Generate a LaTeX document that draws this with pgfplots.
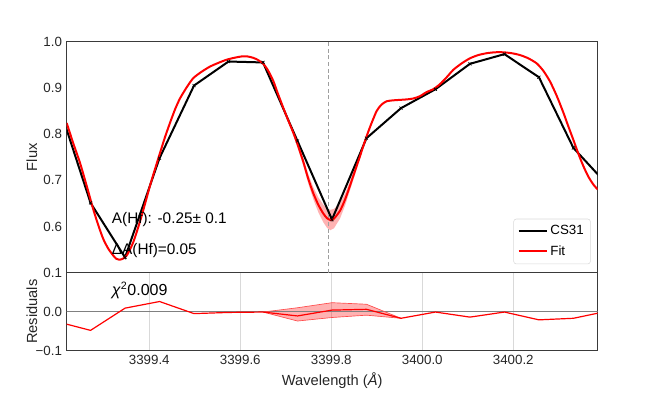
\documentclass[border=0pt]{standalone}
\usepackage{fontspec}
\setmainfont{Liberation Sans}
\usepackage{pgfplots}
\usepackage{pgfplotstable}
\pgfplotsset{compat=1.18}
\usepgfplotslibrary{fillbetween}
\definecolor{spine}{HTML}{3A3A3A}
\definecolor{ticktext}{HTML}{262626}

\pgfplotstableread{
x y
3399.1952 0.880
3399.2710 0.651
3399.3468 0.533
3399.4226 0.748
3399.4984 0.905
3399.5742 0.957
3399.6500 0.955
3399.7258 0.785
3399.8016 0.615
3399.8774 0.791
3399.9532 0.856
3400.0290 0.897
3400.1048 0.952
3400.1806 0.973
3400.2564 0.923
3400.3322 0.770
3400.4080 0.689
}\obsdata

\pgfplotstableread{
x y
3399.2185 0.824
3399.2323 0.782
3399.2477 0.738
3399.2625 0.688
3399.2770 0.637
3399.2879 0.603
3399.2989 0.573
3399.3099 0.552
3399.3209 0.537
3399.3275 0.530
3399.3341 0.528
3399.3416 0.530
3399.3504 0.537
3399.3576 0.550
3399.3649 0.566
3399.3741 0.593
3399.3833 0.623
3399.3924 0.655
3399.4016 0.688
3399.4126 0.724
3399.4236 0.759
3399.4345 0.793
3399.4455 0.824
3399.4565 0.853
3399.4675 0.877
3399.4822 0.901
3399.4967 0.921
3399.5152 0.935
3399.5334 0.946
3399.5517 0.954
3399.5701 0.961
3399.5866 0.965
3399.6031 0.968
3399.6159 0.968
3399.6286 0.965
3399.6396 0.960
3399.6506 0.952
3399.6609 0.938
3399.6726 0.915
3399.6829 0.887
3399.6945 0.857
3399.7049 0.831
3399.7165 0.803
3399.7269 0.775
3399.7385 0.740
3399.7495 0.703
3399.7605 0.672
3399.7715 0.647
3399.7825 0.628
3399.7906 0.618
3399.7983 0.614
3399.8060 0.617
3399.8192 0.634
3399.8302 0.658
3399.8411 0.688
3399.8521 0.720
3399.8631 0.752
3399.8741 0.785
3399.8851 0.815
3399.8998 0.850
3399.9108 0.864
3399.9218 0.871
3399.9363 0.873
3399.9510 0.874
3399.9658 0.875
3399.9803 0.877
3399.9950 0.882
3400.0097 0.891
3400.0242 0.897
3400.0389 0.908
3400.0537 0.923
3400.0682 0.939
3400.0866 0.953
3400.1049 0.964
3400.1231 0.971
3400.1416 0.975
3400.1598 0.977
3400.1781 0.977
3400.1965 0.975
3400.2148 0.971
3400.2330 0.964
3400.2515 0.953
3400.2660 0.937
3400.2807 0.914
3400.2954 0.883
3400.3099 0.847
3400.3209 0.817
3400.3319 0.788
3400.3429 0.758
3400.3539 0.731
3400.3649 0.708
3400.3759 0.691
3400.3855 0.680
}\fitdata

\pgfplotstableread{
x up lo
3399.6945 0.859 0.855
3399.7049 0.835 0.827
3399.7165 0.808 0.798
3399.7269 0.781 0.769
3399.7385 0.748 0.732
3399.7495 0.713 0.693
3399.7605 0.685 0.659
3399.7715 0.663 0.631
3399.7825 0.647 0.609
3399.7906 0.639 0.597
3399.7983 0.636 0.592
3399.8060 0.638 0.596
3399.8192 0.651 0.617
3399.8302 0.671 0.645
3399.8411 0.698 0.678
3399.8521 0.728 0.712
3399.8631 0.758 0.746
3399.8741 0.789 0.781
3399.8851 0.818 0.812
3399.8998 0.851 0.849
}\fitband

\pgfplotstableread{
x r
3399.1952 -0.025
3399.2710 -0.048
3399.3468 0.009
3399.4226 0.026
3399.4984 -0.005
3399.5742 -0.002
3399.6500 -0.001
3399.7258 -0.011
3399.8016 0.004
3399.8774 0.006
3399.9532 -0.017
3400.0290 -0.001
3400.1048 -0.014
3400.1806 -0.001
3400.2564 -0.021
3400.3322 -0.017
3400.4080 0.0015
}\resdata

\pgfplotstableread{
x up lo
3399.6500 -0.001 -0.001
3399.7258 0.010 -0.024
3399.8016 0.023 -0.015
3399.8774 0.019 -0.009
3399.9532 -0.017 -0.017
}\resband

\begin{document}
\begin{tikzpicture}

\begin{axis}[
  at={(50pt,86.5pt)}, anchor=south west,
  scale only axis, width=398.25pt, height=173.25pt,
  xmin=3399.2185, xmax=3400.3855, ymin=0.5, ymax=1.0,
  xtick=\empty,
  ytick={0.6,0.7,0.8,0.9,1.0},
  yticklabels={0.6,0.7,0.8,0.9,1.0},
  major tick length=0pt,
  tick label style={color=ticktext},
  axis line style={spine, line width=0.9pt},
  ylabel={Flux},
  ylabel style={at={(axis description cs:-0.0653,0.5)}, anchor=center, color=ticktext, font=\fontsize{11}{13}\selectfont},
  legend style={at={(0.9868,0.0364)}, anchor=south east, draw=black!15, rounded corners=2pt,
    fill=white, fill opacity=0.8, text opacity=1, row sep=2.5pt, inner xsep=3pt, inner ysep=3pt,
    font=\normalsize},
  legend cell align=left,
  legend image code/.code={\draw[#1, mark=none] (0pt,0pt) -- (21pt,0pt);},
]
\addplot[densely dashed, color=gray!75, line width=0.6pt, forget plot] coordinates {(3399.7935,0.5) (3399.7935,1.0)};
\addplot[name path=bup, draw=none, forget plot] table[x=x, y=up] {\fitband};
\addplot[name path=blo, draw=none, forget plot] table[x=x, y=lo] {\fitband};
\addplot[red, fill opacity=0.3, draw opacity=0, forget plot] fill between[of=bup and blo];
\addplot[black, line width=1.5pt, mark=x, mark size=1.6pt, mark options={line width=0.5pt, black}] table[x=x, y=y] {\obsdata};
\addlegendentry{CS31}
\addplot[red, line width=1.5pt, smooth, tension=0.4] table[x=x, y=y] {\fitdata};
\addlegendentry{Fit}
\node[anchor=west, font=\fontsize{11.5}{13}\selectfont, inner sep=0pt] at (axis cs:3399.3174,0.614) {A(Hf): -0.25± 0.1};
\node[anchor=west, font=\fontsize{11.5}{13}\selectfont, inner sep=0pt] at (axis cs:3399.3174,0.547) {ΔA(Hf)=0.05};
\end{axis}

\begin{axis}[
  at={(50pt,86.5pt)}, anchor=north west,
  scale only axis, width=398.25pt, height=58.5pt,
  xmin=3399.2185, xmax=3400.3855, ymin=-0.1, ymax=0.1,
  xtick={3399.4,3399.6,3399.8,3400.0,3400.2},
  xticklabels={3399.4,3399.6,3399.8,3400.0,3400.2},
  ytick={-0.1,0,0.1},
  yticklabels={−0.1,0.0,0.1},
  major tick length=0pt,
  xmajorgrids,
  grid style={color=black!15, line width=0.6pt},
  tick label style={color=ticktext},
  axis line style={spine, line width=0.9pt},
  xlabel={Wavelength (\textit{Å})},
  xlabel style={at={(axis description cs:0.5,-0.39)}, anchor=center, color=ticktext, font=\fontsize{11}{13}\selectfont},
  ylabel={Residuals},
  ylabel style={at={(axis description cs:-0.0653,0.5)}, anchor=center, color=ticktext, font=\fontsize{11}{13}\selectfont},
]
\addplot[gray, line width=1.1pt] coordinates {(3399.1,0) (3400.5,0)};
\addplot[name path=rup, draw=none, forget plot] table[x=x, y=up] {\resband};
\addplot[name path=rlo, draw=none, forget plot] table[x=x, y=lo] {\resband};
\addplot[red, fill opacity=0.3, draw opacity=0, forget plot] fill between[of=rup and rlo];
\addplot[red!70, line width=0.5pt, forget plot] table[x=x, y=up] {\resband};
\addplot[red!70, line width=0.5pt, forget plot] table[x=x, y=lo] {\resband};
\addplot[red, line width=0.9pt] table[x=x, y=r] {\resdata};
\node[anchor=west, font=\fontsize{12}{14}\selectfont, inner sep=0pt] at (axis cs:3399.3174,0.055) {\textit{χ}\textsuperscript{2}0.009};
\end{axis}
\path (0,0) rectangle (498pt,291pt);
\end{tikzpicture}
\end{document}
